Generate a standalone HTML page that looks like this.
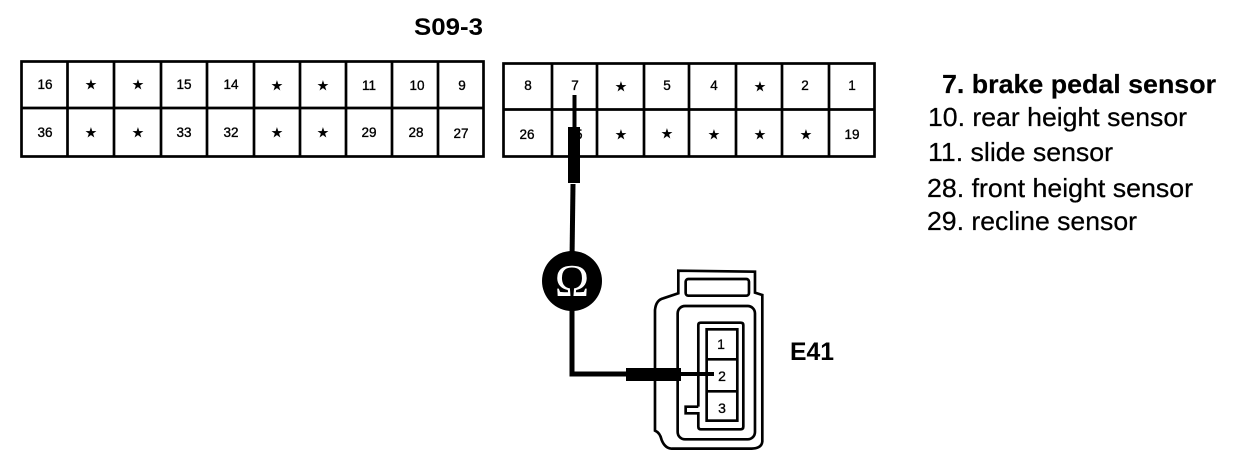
<!DOCTYPE html>
<html><head><meta charset="utf-8"><style>
html,body{margin:0;padding:0;background:#fff;width:1248px;height:468px;overflow:hidden}
svg{display:block}
text{font-family:"Liberation Sans",sans-serif;fill:#000}
.n{font-size:13.5px;text-anchor:middle;stroke:#000;stroke-width:.35}
.s{font-size:13px;text-anchor:middle;font-family:"DejaVu Sans",sans-serif;stroke:#000;stroke-width:.3}
.l{font-size:26px;stroke:#000;stroke-width:.25}
.b{font-size:26px;font-weight:bold;stroke:#000;stroke-width:.2}
</style></head><body>
<svg width="1248" height="468" viewBox="0 0 1248 468" xmlns="http://www.w3.org/2000/svg">
<text x="414" y="35" font-size="24" font-weight="bold" textLength="69" lengthAdjust="spacingAndGlyphs">S09-3</text>

<g fill="none" stroke="#000" stroke-width="2.7">
<rect x="21.5" y="61.5" width="462" height="95"/>
<path d="M21 108H484M67.5 61V157M114 61V157M161 61V157M207 61V157M254 61V157M300 61V157M346 61V157M392 61V157M438 61V157"/>
<rect x="503.5" y="63.5" width="371" height="93"/>
<path d="M503 109.500H875M552 63V157M597 63V157M644 63V157M689 63V157M736 63V157M782 63V157M829 63V157"/>
</g>

<g>
<text class="n" x="45" y="89">16</text><text class="s" x="91" y="89">★</text><text class="s" x="138" y="89">★</text><text class="n" x="184" y="89">15</text><text class="n" x="231" y="89">14</text><text class="s" x="277" y="90">★</text><text class="s" x="323" y="90">★</text><text class="n" x="369" y="90">11</text><text class="n" x="417" y="90">10</text><text class="n" x="462" y="90">9</text>
<text class="n" x="45" y="137">36</text><text class="s" x="91" y="137">★</text><text class="s" x="138" y="137">★</text><text class="n" x="184" y="137">33</text><text class="n" x="231" y="137">32</text><text class="s" x="277" y="137">★</text><text class="s" x="323" y="137">★</text><text class="n" x="369" y="137">29</text><text class="n" x="416" y="137">28</text><text class="n" x="461" y="138">27</text>
<text class="n" x="528" y="90">8</text><text class="n" x="575" y="90">7</text><text class="s" x="621" y="91">★</text><text class="n" x="667" y="90">5</text><text class="n" x="714" y="90">4</text><text class="s" x="760" y="91">★</text><text class="n" x="805" y="90">2</text><text class="n" x="852" y="90">1</text>
<text class="n" x="527" y="139">26</text><text class="n" x="575" y="139">25</text><text class="s" x="621" y="139">★</text><text class="s" x="667" y="138">★</text><text class="s" x="714" y="139">★</text><text class="s" x="760" y="139">★</text><text class="s" x="806" y="139">★</text><text class="n" x="852" y="139">19</text>
</g>

<text class="b" x="942" y="93" textLength="274" lengthAdjust="spacingAndGlyphs">7. brake pedal sensor</text>
<text class="l" x="928" y="126" textLength="259" lengthAdjust="spacingAndGlyphs">10. rear height sensor</text>
<text class="l" x="928" y="161" textLength="185" lengthAdjust="spacingAndGlyphs">11. slide sensor</text>
<text class="l" x="927" y="197" textLength="266" lengthAdjust="spacingAndGlyphs">28. front height sensor</text>
<text class="l" x="927" y="230" textLength="210" lengthAdjust="spacingAndGlyphs">29. recline sensor</text>

<path d="M574.500 95V130" stroke="#000" stroke-width="4" fill="none"/>
<rect x="568" y="127" width="12" height="56" fill="#000"/>
<path d="M573 184L572 260" stroke="#000" stroke-width="5" fill="none"/>
<circle cx="572" cy="281" r="30" fill="#000"/>
<text x="572" y="296" font-size="46" text-anchor="middle" style="fill:#fff;font-family:'Liberation Serif',serif">Ω</text>
<path d="M572 305V374H626" stroke="#000" stroke-width="5" fill="none"/>
<rect x="626" y="368" width="55" height="13" fill="#000"/>
<path d="M681 374H714" stroke="#000" stroke-width="4" fill="none"/>

<g transform="translate(530 230) scale(.3333)" fill="none" stroke="#000" stroke-width="8">
<path d="M445 122L675 125V188L697 195V635Q695 655 665 656H425Q405 655 395 630Q390 608 375 602V240Q378 210 400 205L445 190Z"/>
<rect x="467" y="147" width="190" height="50" rx="8"/>
<rect x="443" y="228" width="232" height="400" rx="22"/>
<path d="M505 530V285Q505 278 512 278H632Q640 278 640 285V590Q640 598 632 598H512Q505 598 505 590V550H467V530H505"/>
<rect x="530" y="298" width="92" height="274"/>
<path d="M530 388H622M530 484H622"/>
</g>
<text x="721" y="349" font-size="14" text-anchor="middle" stroke="#000" stroke-width=".3">1</text>
<text x="722" y="381" font-size="14" text-anchor="middle" stroke="#000" stroke-width=".3">2</text>
<text x="722" y="413" font-size="14" text-anchor="middle" stroke="#000" stroke-width=".3">3</text>
<text x="790" y="360" font-size="25" font-weight="bold" textLength="44" lengthAdjust="spacingAndGlyphs">E41</text>
</svg>
</body></html>
